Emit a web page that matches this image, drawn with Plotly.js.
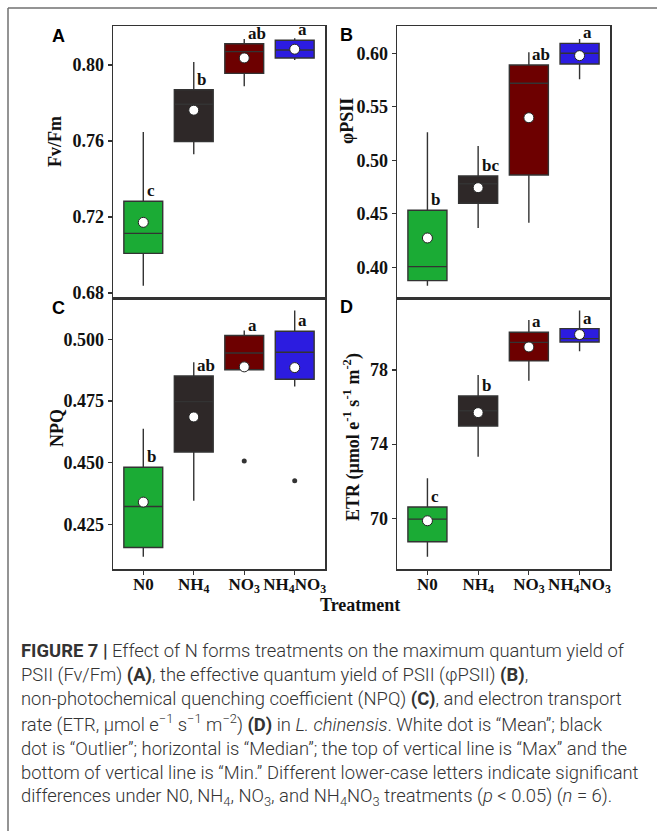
<!DOCTYPE html>
<html>
<head>
<meta charset="utf-8">
<script src="https://cdn.plot.ly/plotly-3.0.1.min.js"></script>
<style>
html,body{margin:0;padding:0;background:#fff;}
#chart{width:657px;height:831px;}
</style>
</head>
<body>
<div id="chart"></div>
<script>
// ---------- data ----------
const treatments = ['N0', 'NH<sub>4</sub>', 'NO<sub>3</sub>', 'NH<sub>4</sub>NO<sub>3</sub>'];
const boxColors = ['#1bab35', '#2e2828', '#6d0000', '#2c1ce0'];

// Panel A: Fv/Fm
const fvfmMin    = [0.6838, 0.7530, 0.7888, 0.8026];
const fvfmQ1     = [0.7009, 0.7597, 0.7956, 0.8037];
const fvfmMedian = [0.7114, 0.7793, 0.8070, 0.8079];
const fvfmQ3     = [0.7283, 0.7870, 0.8112, 0.8130];
const fvfmMax    = [0.7647, 0.8016, 0.8137, 0.8140];
const fvfmMean   = [0.7172, 0.7762, 0.8037, 0.8083];
const fvfmLetters = ['c', 'b', 'ab', 'a'];

// Panel B: phiPSII
const psiiMin    = [0.3828, 0.4367, 0.4417, 0.5757];
const psiiQ1     = [0.3875, 0.4598, 0.4863, 0.5900];
const psiiMedian = [0.4006, 0.4781, 0.5720, 0.6000];
const psiiQ3     = [0.4533, 0.4853, 0.5891, 0.6093];
const psiiMax    = [0.5262, 0.5134, 0.6009, 0.6134];
const psiiMean   = [0.4274, 0.4744, 0.5398, 0.5978];
const psiiLetters = ['b', 'bc', 'ab', 'a'];

// Panel C: NPQ
const npqMin    = [0.4119, 0.4346, 0.4876, 0.4808];
const npqQ1     = [0.4156, 0.4543, 0.4876, 0.4838];
const npqMedian = [0.4322, 0.4747, 0.4944, 0.4947];
const npqQ3     = [0.4481, 0.4851, 0.5015, 0.5032];
const npqMax    = [0.4637, 0.4907, 0.5035, 0.5116];
const npqMean   = [0.4340, 0.4685, 0.4888, 0.4885];
const npqLetters = ['b', 'ab', 'a', 'a'];
const npqOutlierGroup = [2, 3];
const npqOutlierValue = [0.4507, 0.4427];

// Panel D: ETR
const etrMin    = [67.93, 73.32, 77.42, 79.01];
const etrQ1     = [68.74, 74.98, 78.49, 79.51];
const etrMedian = [69.96, 75.80, 79.49, 79.69];
const etrQ3     = [70.61, 76.60, 80.03, 80.23];
const etrMax    = [72.16, 77.73, 80.70, 81.20];
const etrMean   = [69.87, 75.70, 79.24, 79.91];
const etrLetters = ['c', 'b', 'a', 'a'];

const captionLines = [
  '<b>FIGURE 7 |</b> Effect of N forms treatments on the maximum quantum yield of',
  'PSII (Fv/Fm) <b>(A)</b>, the effective quantum yield of PSII (\u03c6PSII) <b>(B)</b>,',
  'non-photochemical quenching coefficient (NPQ) <b>(C)</b>, and electron transport',
  'rate (ETR, \u03bcmol e<sup>\u22121</sup> s<sup>\u22121</sup> m<sup>\u22122</sup>) <b>(D)</b> in <i>L. chinensis</i>. White dot is \u201cMean\u201d; black',
  'dot is \u201cOutlier\u201d; horizontal is \u201cMedian\u201d; the top of vertical line is \u201cMax\u201d and the',
  'bottom of vertical line is \u201cMin.\u201d Different lower-case letters indicate significant',
  'differences under N0, NH<sub>4</sub>, NO<sub>3</sub>, and NH<sub>4</sub>NO<sub>3</sub> treatments (<i>p</i> &lt; 0.05) (<i>n</i> = 6).'
];

// ---------- build ----------
const W = 657, H = 831;
const px = v => v / W;
const py = v => 1 - v / H;
const serif = 'Liberation Serif, Times New Roman, serif';
const lineCol = '#333333';

const panels = [
  {key: 'A', ax: 'x',  ay: 'y',  min: fvfmMin, q1: fvfmQ1, med: fvfmMedian, q3: fvfmQ3, max: fvfmMax, mean: fvfmMean, letters: fvfmLetters},
  {key: 'B', ax: 'x2', ay: 'y2', min: psiiMin, q1: psiiQ1, med: psiiMedian, q3: psiiQ3, max: psiiMax, mean: psiiMean, letters: psiiLetters},
  {key: 'C', ax: 'x3', ay: 'y3', min: npqMin,  q1: npqQ1,  med: npqMedian,  q3: npqQ3,  max: npqMax,  mean: npqMean,  letters: npqLetters},
  {key: 'D', ax: 'x4', ay: 'y4', min: etrMin,  q1: etrQ1,  med: etrMedian,  q3: etrQ3,  max: etrMax,  mean: etrMean,  letters: etrLetters}
];

const traces = [];
const annotations = [];
const groups = [0, 1, 2, 3];

panels.forEach(p => {
  groups.forEach(i => {
    traces.push({
      type: 'box', xaxis: p.ax, yaxis: p.ay,
      x: [i], q1: [p.q1[i]], median: [p.med[i]], q3: [p.q3[i]],
      lowerfence: [p.min[i]], upperfence: [p.max[i]],
      width: 0.77, whiskerwidth: 0, boxpoints: false,
      fillcolor: boxColors[i],
      line: {color: lineCol, width: 1.4},
      hoverinfo: 'skip', showlegend: false
    });
    annotations.push({
      xref: p.ax, yref: p.ay, x: i + 0.03, y: p.q3[i],
      xanchor: 'left', yanchor: 'bottom', yshift: -1,
      text: '<b>' + p.letters[i] + '</b>', showarrow: false,
      font: {family: serif, size: 17, color: '#111'}
    });
  });
  traces.push({
    type: 'scatter', mode: 'markers', xaxis: p.ax, yaxis: p.ay,
    x: groups, y: p.mean,
    marker: {color: '#ffffff', size: 10, line: {color: '#222', width: 1}},
    hoverinfo: 'skip', showlegend: false
  });
});

traces.push({
  type: 'scatter', mode: 'markers', xaxis: 'x3', yaxis: 'y3',
  x: npqOutlierGroup, y: npqOutlierValue,
  marker: {color: '#333', size: 5},
  hoverinfo: 'skip', showlegend: false
});

const tickFontY = {family: serif, size: 18, color: '#111', weight: 'bold'};
const tickFontX = {family: serif, size: 17, color: '#111', weight: 'bold'};

function xAxis(domain, anchor, labels) {
  return {
    domain: domain, anchor: anchor, range: [-0.6, 3.6],
    tickvals: groups, ticktext: treatments, tickangle: 0,
    showticklabels: labels, ticks: labels ? 'outside' : '', ticklen: 4, tickwidth: 1.2, tickcolor: lineCol,
    showline: true, mirror: true, linecolor: lineCol, linewidth: 1.5,
    showgrid: false, zeroline: false, tickfont: tickFontX, fixedrange: true
  };
}
function yAxis(domain, anchor, range, tick0, dtick, fmt) {
  return {
    domain: domain, anchor: anchor, range: range,
    tick0: tick0, dtick: dtick, tickformat: fmt,
    ticks: 'outside', ticklen: 4, tickwidth: 1.2, tickcolor: lineCol,
    showline: true, mirror: true, linecolor: lineCol, linewidth: 1.5,
    showgrid: false, zeroline: false, tickfont: tickFontY, fixedrange: true
  };
}

const leftDom = [px(113), px(325)];
const rightDom = [px(397), px(610)];
const topDom = [py(298), py(26)];
const botDom = [py(569), py(298)];

// panel letters
[['A', 58, 36], ['B', 346, 35], ['C', 58, 308], ['D', 346, 307]].forEach(l => {
  annotations.push({xref: 'paper', yref: 'paper', x: px(l[1]), y: py(l[2]), xanchor: 'center', yanchor: 'middle',
    text: '<b>' + l[0] + '</b>', showarrow: false, font: {family: 'Liberation Sans, Arial, sans-serif', size: 18, color: '#000'}});
});

// y-axis titles
[['Fv/Fm', 55, 142], ['\u03c6PSII', 347, 121], ['NPQ', 57, 428],
 ['ETR (\u00b5mol e<sup>-1</sup> s<sup>-1</sup> m<sup>-2</sup>)', 352, 437]].forEach(t => {
  annotations.push({xref: 'paper', yref: 'paper', x: px(t[1]), y: py(t[2]), xanchor: 'center', yanchor: 'middle',
    textangle: -90, text: '<b>' + t[0] + '</b>', showarrow: false, font: {family: serif, size: 18, color: '#111'}});
});

annotations.push({xref: 'paper', yref: 'paper', x: px(360), y: py(605), xanchor: 'center', yanchor: 'middle',
  text: '<b>Treatment</b>', showarrow: false, font: {family: serif, size: 18, color: '#111'}});

// caption
const capY0 = 650, capStep = 24.5;
captionLines.forEach((t, k) => {
  annotations.push({xref: 'paper', yref: 'paper', x: px(19), y: py(capY0 + k * capStep), xanchor: 'left', yanchor: 'middle',
    text: t, showarrow: false, align: 'left',
    font: {family: 'Roboto, Liberation Sans, sans-serif', size: 18.4, color: '#333', weight: 300}});
});

const layout = {
  width: W, height: H, margin: {l: 0, r: 0, t: 0, b: 0},
  paper_bgcolor: '#fff', plot_bgcolor: '#fff', showlegend: false,
  xaxis: xAxis(leftDom, 'y', false),
  yaxis: yAxis(topDom, 'x', [0.6774, 0.8205], 0.68, 0.04, '.2f'),
  xaxis2: xAxis(rightDom, 'y2', false),
  yaxis2: yAxis(topDom, 'x2', [0.3713, 0.6255], 0.40, 0.05, '.2f'),
  xaxis3: xAxis(leftDom, 'y3', true),
  yaxis3: yAxis(botDom, 'x3', [0.4069, 0.5167], 0.425, 0.025, '.3f'),
  xaxis4: xAxis(rightDom, 'y4', true),
  yaxis4: yAxis(botDom, 'x4', [67.27, 81.88], 70, 4, 'd'),
  annotations: annotations,
  shapes: [
    {type: 'line', xref: 'paper', yref: 'paper', x0: px(8), x1: 1, y0: py(8), y1: py(8), line: {color: '#707070', width: 1.5}},
    {type: 'line', xref: 'paper', yref: 'paper', x0: px(8), x1: px(8), y0: py(8), y1: 0, line: {color: '#707070', width: 1.5}}
  ]
};

Plotly.newPlot('chart', traces, layout, {staticPlot: true, displayModeBar: false}).then(gd => {
  // nudge the category labels a little closer to the axis, as in the reference
  gd.querySelectorAll('.x3tick text, .x4tick text').forEach(t => {
    const y = parseFloat(t.getAttribute('y'));
    if (!isNaN(y)) t.setAttribute('y', y - 5);
  });
});
</script>
</body>
</html>
